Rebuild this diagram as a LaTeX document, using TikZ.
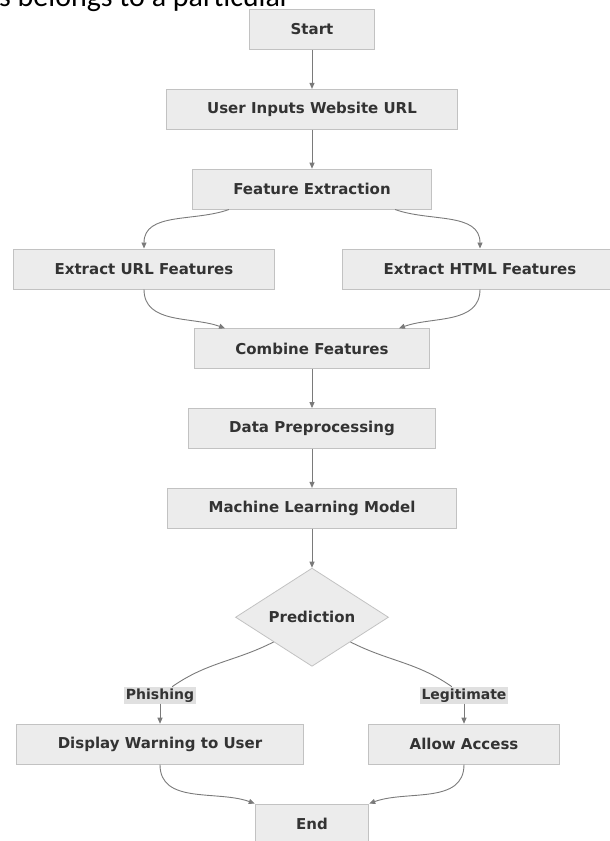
\documentclass[tikz,border=0pt]{standalone}
\usepackage{fontspec}
\setmainfont{DejaVu Sans}
\newfontfamily\pagefont{Carlito}
\usepackage{xcolor}
\usepackage{tikz}
\usetikzlibrary{positioning,arrows,arrows.meta,shapes,shapes.geometric}
\definecolor{boxfill}{HTML}{ECECEC}
\definecolor{boxline}{HTML}{C2C2C2}
\definecolor{edgeline}{HTML}{7A7A7A}
\definecolor{tagfill}{HTML}{E0E0E0}
\definecolor{textgrey}{HTML}{333333}
\tikzstyle{link} = [edgeline,line width=0.9pt,-{Triangle[length=6pt,width=5pt]}]

\begin{document}
\begin{tikzpicture}[
        x=1pt, y=1pt,
        node distance=39pt,
        stepbox/.style={
            rectangle,
            draw=boxline,
            fill=boxfill,
            line width=0.8pt,
            minimum height=40pt,
            inner xsep=41pt,
            text=textgrey,
            font=\bfseries\fontsize{15}{18}\selectfont
        },
        decision/.style={
            diamond,
            draw=boxline,
            fill=boxfill,
            line width=0.8pt,
            minimum width=153pt,
            minimum height=98pt,
            inner sep=0pt,
            text=textgrey,
            font=\bfseries\fontsize{15}{18}\selectfont
        },
        tag/.style={
            fill=tagfill,
            inner sep=1.5pt,
            text=textgrey,
            font=\bfseries\fontsize{14}{16}\selectfont
        },
        flow/.style={link},
        plain/.style={edgeline,line width=0.9pt}
    ]

    \clip (0,0) rectangle (610,-841);

    % page text cut off above the chart
    \node[anchor=base west, inner sep=0pt, font=\pagefont\fontsize{30}{34}\selectfont] (header)
        at (-1,-6) {s belongs to a particular};

    \node[stepbox] (start) at (312,-29.5) {Start};

    \node[stepbox, below=of start] (user)
        {User Inputs Website URL};

    \node[stepbox, below=of user] (fe)
        {Feature Extraction};

    \node[stepbox, below=of fe, xshift=-168pt] (url)
        {Extract URL Features};

    \node[stepbox, below=of fe, xshift=168pt] (html)
        {Extract HTML Features};

    \node[stepbox, below=of url, xshift=168pt] (comb)
        {Combine Features};

    \node[stepbox, below=of comb] (prep)
        {Data Preprocessing};

    \node[stepbox, below=of prep] (model)
        {Machine Learning Model};

    \node[decision, below=of model] (pred)
        {Prediction};

    \node[stepbox, below=57pt of pred, xshift=-152pt] (warn)
        {Display Warning to User};

    \node[stepbox, below=57pt of pred, xshift=152pt] (allow)
        {Allow Access};

    \node[stepbox, below=of warn, xshift=152pt] (finish)
        {End};

    \node[tag, above=20pt of warn] (phish) {Phishing};
    \node[tag, above=20pt of allow] (legit) {Legitimate};

    \draw[flow] (start) -- (user);
    \draw[flow] (user) -- (fe);

    \draw[flow] ([xshift=37pt]fe.south west) to[out=-160,in=90] (url);
    \draw[flow] ([xshift=-37pt]fe.south east) to[out=-20,in=90] (html);

    \draw[flow] (url) to[out=-90,in=160] ([xshift=31pt]comb.north west);
    \draw[flow] (html) to[out=-90,in=20] ([xshift=-31pt]comb.north east);

    \draw[flow] (comb) -- (prep);
    \draw[flow] (prep) -- (model);
    \draw[flow] (model) -- (pred);

    \draw[plain] (pred.south west) to[out=-153,in=35] (phish);
    \draw[flow] (phish) -- (warn);
    \draw[plain] (pred.south east) to[out=-27,in=145] (legit);
    \draw[flow] (legit) -- (allow);

    \draw[flow] (warn) to[out=-90,in=160] (finish.north west);
    \draw[flow] (allow) to[out=-90,in=20] (finish.north east);

    \end{tikzpicture}
\end{document}
